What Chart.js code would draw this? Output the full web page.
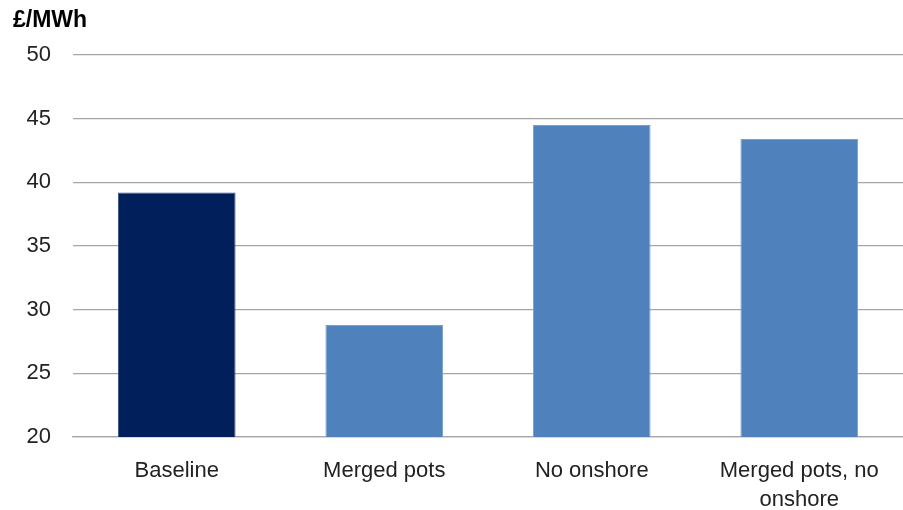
<!DOCTYPE html>
<html>
<head>
<meta charset="utf-8">
<script src="https://cdn.jsdelivr.net/npm/chart.js@4"></script>
<style>
html,body{margin:0;padding:0;background:#fff;}
#wrap{width:903px;height:510px;}
</style>
</head>
<body>
<div id="wrap"><canvas id="c" width="903" height="510"></canvas></div>
<script>
const categories = ["Baseline", "Merged pots", "No onshore", ["Merged pots, no", "onshore"]];
const values = [39.2, 28.8, 44.5, 43.4];
const barColors = ["#001F5B", "#4F81BD", "#4F81BD", "#4F81BD"];
const unitLabel = "£/MWh";
const yMin = 20, yMax = 50, yStep = 5;

const FONT = "'Liberation Sans', Arial, sans-serif";

const unitPlugin = {
  id: 'unitLabel',
  afterDraw(chart) {
    const ctx = chart.ctx;
    ctx.save();
    ctx.font = "bold 23px " + FONT;
    ctx.fillStyle = "#000";
    ctx.textBaseline = "middle";
    ctx.textAlign = "left";
    ctx.fillText(unitLabel, 13, 21);
    ctx.restore();
  }
};

new Chart(document.getElementById('c'), {
  type: 'bar',
  data: {
    labels: categories,
    datasets: [{
      data: values,
      backgroundColor: barColors,
      borderColor: barColors.map(c => c === "#001F5B" ? "#3A5580" : "#7BA0D0"),
      borderWidth: 1,
      categoryPercentage: 1,
      barPercentage: 0.567
    }]
  },
  options: {
    responsive: false,
    animation: false,
    devicePixelRatio: 1,
    layout: { padding: { top: 55, right: 0, left: 0, bottom: 0 } },
    plugins: { legend: { display: false }, tooltip: { enabled: false } },
    scales: {
      y: {
        min: yMin, max: yMax,
        ticks: { stepSize: yStep, padding: 22, color: "#222", font: { family: FONT, size: 22 } },
        grid: { color: "#A6A6A6", lineWidth: 1.3, drawTicks: false },
        border: { display: false },
        afterFit(scale) { scale.width = 73; }
      },
      x: {
        ticks: { padding: 12, color: "#222", font: { family: FONT, size: 22, lineHeight: 1.3 }, maxRotation: 0, autoSkip: false },
        grid: { display: false },
        border: { display: true, color: "#A6A6A6", width: 1.3 },
        afterFit(scale) { scale.height = 73; }
      }
    }
  },
  plugins: [unitPlugin]
});
</script>
</body>
</html>
